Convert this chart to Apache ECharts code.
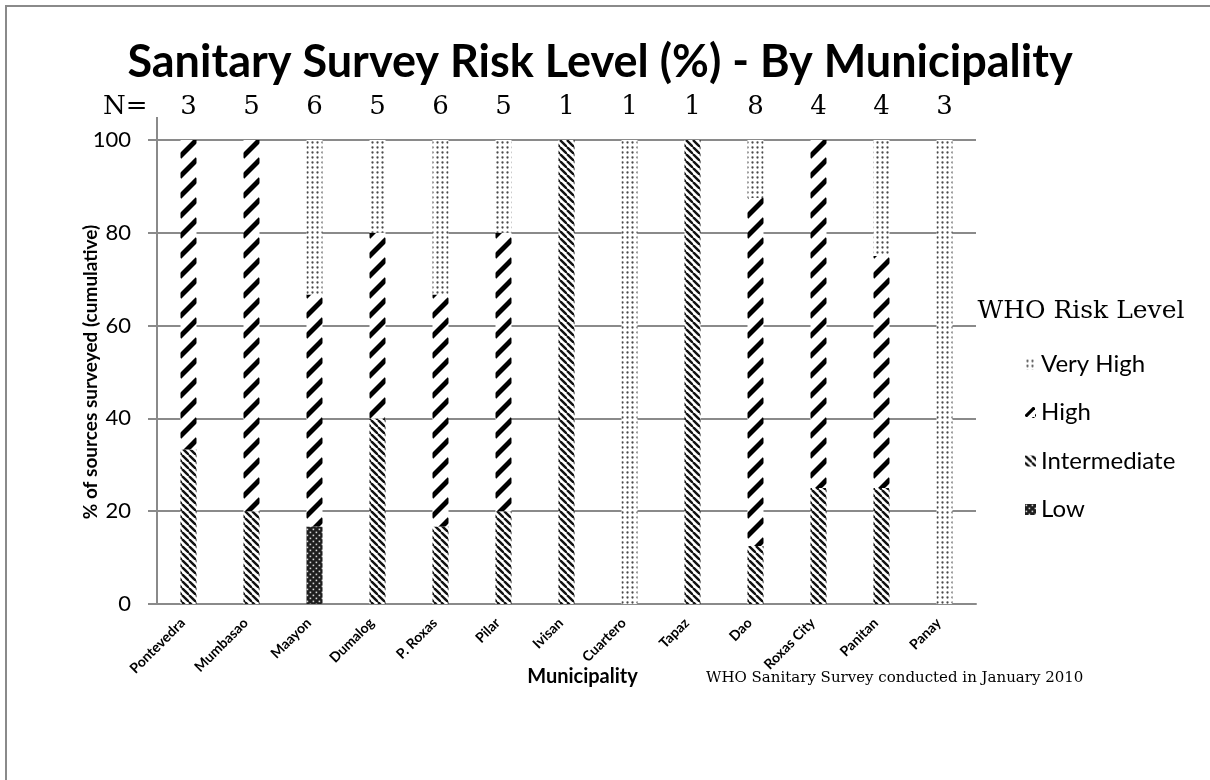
<!DOCTYPE html>
<html>
<head>
<meta charset="utf-8">
<title>Sanitary Survey Risk Level (%) - By Municipality</title>
<script src="https://cdn.jsdelivr.net/npm/echarts@6/dist/echarts.min.js"></script>
<style>
  html, body { margin: 0; padding: 0; background: #fff; }
  #chart { width: 1210px; height: 780px; }
</style>
</head>
<body>
<div id="chart"></div>
<script>
// Municipalities surveyed and number of sources (N) in each
const categories = ['Pontevedra', 'Mumbasao', 'Maayon', 'Dumalog', 'P. Roxas', 'Pilar', 'Ivisan',
  'Cuartero', 'Tapaz', 'Dao', 'Roxas City', 'Panitan', 'Panay'];
const sampleSizes = [3, 5, 6, 5, 6, 5, 1, 1, 1, 8, 4, 4, 3];

// Share of sources (%) in each WHO risk level
const lowPct          = [0, 0, 16.7, 0, 0, 0, 0, 0, 0, 0, 0, 0, 0];
const intermediatePct = [33.3, 20, 0, 40, 16.7, 20, 100, 0, 100, 12.5, 25, 25, 0];
const highPct         = [66.7, 80, 50, 40, 50, 60, 0, 0, 0, 75, 75, 50, 0];
const veryHighPct     = [0, 0, 33.3, 20, 33.3, 20, 0, 100, 0, 12.5, 0, 25, 100];

// Layout constants
const GRID_LEFT = 157, GRID_TOP = 140, CAT_W = 63, BAR_W = 16;
const GRID_W = CAT_W * categories.length;

// Hatch fills drawn on small canvases
function tile(w, h, draw, bg) {
  const c = document.createElement('canvas');
  c.width = w; c.height = h;
  const ctx = c.getContext('2d');
  ctx.fillStyle = bg || '#fff';
  ctx.fillRect(0, 0, w, h);
  draw(ctx);
  return c;
}

const veryHighTile = tile(5, 5, ctx => {
  ctx.fillStyle = '#4a4a4a';
  ctx.beginPath();
  ctx.arc(2.5, 2.5, 1.15, 0, Math.PI * 2);
  ctx.fill();
});

const intermediateTile = tile(7, 7, ctx => {
  ctx.strokeStyle = '#111';
  ctx.lineWidth = 2.4;
  for (const off of [-7, 0, 7]) {
    ctx.beginPath();
    ctx.moveTo(off, 0);
    ctx.lineTo(off + 7, 7);
    ctx.stroke();
  }
});

// dashed upward diagonal: one dash across each bar, repeating every 20px
const barLeftPhase = ((GRID_LEFT + CAT_W / 2 - BAR_W / 2) % CAT_W);
const highTile = tile(CAT_W, 20, ctx => {
  ctx.strokeStyle = '#000';
  ctx.lineWidth = 5;
  for (const x0 of [barLeftPhase, barLeftPhase - CAT_W]) {
    for (const y0 of [-20, 0, 20]) {
      ctx.beginPath();
      ctx.moveTo(x0 - 1, y0 + 17);
      ctx.lineTo(x0 + 17, y0 - 1);
      ctx.stroke();
    }
  }
});

const highLegendTile = tile(10, 10, ctx => {
  ctx.strokeStyle = '#000';
  ctx.lineWidth = 3.2;
  ctx.beginPath();
  ctx.moveTo(0.5, 9.5);
  ctx.lineTo(9.5, 0.5);
  ctx.stroke();
});

const lowTile = tile(6, 6, ctx => {
  ctx.fillStyle = '#d8d8d8';
  ctx.fillRect(0.6, 0.6, 1.6, 1.6);
  ctx.fillRect(3.6, 3.6, 1.6, 1.6);
}, '#1e1e1e');

const pat = c => ({ image: c, repeat: 'repeat' });

const SANS = 'Lato, "Open Sans", sans-serif';
const SERIF = '"DejaVu Serif", "Liberation Serif", serif';
const GRAY = '#8a8a8a';

function barSeries(name, data, fill) {
  return {
    name, type: 'bar', stack: 'risk', data,
    barWidth: BAR_W,
    itemStyle: { color: pat(fill) },
    emphasis: { disabled: true }
  };
}

const chart = echarts.init(document.getElementById('chart'), null, { renderer: 'canvas' });

chart.setOption({
  animation: false,
  backgroundColor: '#fff',
  grid: { left: GRID_LEFT, top: GRID_TOP, width: GRID_W, bottom: 176, containLabel: false },
  legend: {
    orient: 'vertical',
    left: 1020, top: 347,
    icon: 'rect',
    itemWidth: 11, itemHeight: 11, itemGap: 24.5,
    textStyle: { fontFamily: SANS, fontSize: 24, color: '#000', lineHeight: 24 },
    data: [
      { name: 'Very High' },
      { name: 'High', itemStyle: { color: pat(highLegendTile) } },
      { name: 'Intermediate' },
      { name: 'Low' }
    ]
  },
  xAxis: [
    {
      type: 'category', data: categories, position: 'bottom',
      axisLine: { lineStyle: { color: GRAY, width: 2 } },
      axisTick: { show: false },
      axisLabel: {
        interval: 0, rotate: 45, margin: 11, padding: [0, 8, 0, 0],
        fontFamily: SANS, fontWeight: 'bold', fontSize: 14, color: '#000'
      },
      name: 'Municipality', nameLocation: 'middle', nameGap: 63, nameMoveOverlap: false,
      nameTextStyle: {
        fontFamily: SANS, fontWeight: 'bold', fontSize: 20, color: '#000',
        padding: [0, 0, 0, 32]
      }
    },
    {
      type: 'category', data: sampleSizes.map(String), position: 'top',
      axisLine: { show: false }, axisTick: { show: false },
      axisLabel: {
        interval: 0, margin: 20,
        fontFamily: SERIF, fontSize: 26, color: '#000', lineHeight: 26
      }
    }
  ],
  yAxis: {
    type: 'value', min: 0, max: 100, interval: 20,
    axisLine: { show: true, lineStyle: { color: GRAY, width: 2 } },
    axisTick: { show: true, length: 9, lineStyle: { color: GRAY, width: 2 } },
    splitLine: { lineStyle: { color: GRAY, width: 2 } },
    axisLabel: { margin: 26, fontFamily: SANS, fontSize: 22, color: '#000' },
    name: '% of sources surveyed (cumulative)', nameLocation: 'middle', nameGap: 57,
    nameMoveOverlap: false,
    nameTextStyle: { fontFamily: SANS, fontWeight: 'bold', fontSize: 19, color: '#000' }
  },
  series: [
    barSeries('Low', lowPct, lowTile),
    barSeries('Intermediate', intermediatePct, intermediateTile),
    barSeries('High', highPct, highTile),
    barSeries('Very High', veryHighPct, veryHighTile)
  ],
  graphic: [
    { // frame
      type: 'polyline', silent: true,
      shape: { points: [[6, 790], [6, 6], [1220, 6]] },
      style: { stroke: GRAY, lineWidth: 2, fill: null }
    },
    { // y axis continues up to the N= row
      type: 'line', silent: true,
      shape: { x1: GRID_LEFT, y1: 117, x2: GRID_LEFT, y2: GRID_TOP },
      style: { stroke: GRAY, lineWidth: 2 }
    },
    {
      type: 'text', x: 600, y: 40,
      style: {
        text: 'Sanitary Survey Risk Level (%) - By Municipality',
        font: 'bold 45px ' + SANS, fill: '#000', align: 'center', verticalAlign: 'top'
      }
    },
    {
      type: 'text', x: 103, y: 120,
      style: { text: 'N=', font: '26px ' + SERIF, fill: '#000', verticalAlign: 'bottom', lineHeight: 26 }
    },
    {
      type: 'text', x: 1081, y: 311,
      style: { text: 'WHO Risk Level', font: '25px ' + SERIF, fill: '#000', align: 'center', verticalAlign: 'middle' }
    },
    {
      type: 'text', x: 706, y: 678,
      style: { text: 'WHO Sanitary Survey conducted in January 2010', font: '15px ' + SERIF, fill: '#000', verticalAlign: 'middle' }
    }
  ]
});
</script>
</body>
</html>
